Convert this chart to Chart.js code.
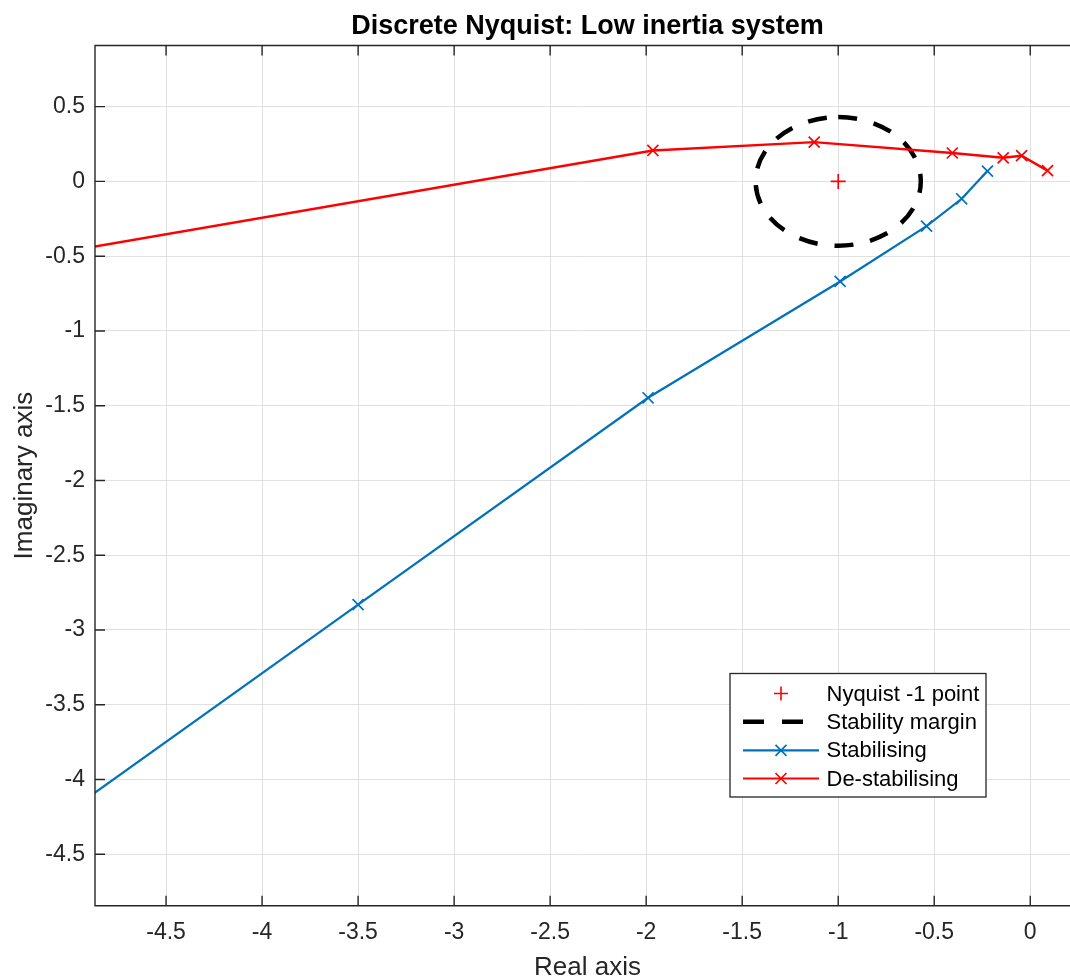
<!DOCTYPE html>
<html><head><meta charset="utf-8">
<script src="https://cdn.jsdelivr.net/npm/chart.js@4.4.1/dist/chart.umd.min.js"></script>
<style>html,body{margin:0;padding:0;background:#fff;}#wrap{width:1070px;height:978px;}</style>
</head><body><div id="wrap"><canvas id="c" width="1070" height="978"></canvas></div>
<script>
// ---- data ----
const chartTitle = 'Discrete Nyquist: Low inertia system';
const xLabel = 'Real axis';
const yLabel = 'Imaginary axis';
const xTicks = [-4.5, -4, -3.5, -3, -2.5, -2, -1.5, -1, -0.5, 0];
const yTicks = [0.5, 0, -0.5, -1, -1.5, -2, -2.5, -3, -3.5, -4, -4.5];
const xRange = [-4.87, 0.207];
const yRange = [-4.844, 0.909];
const seriesNames = ['Nyquist -1 point', 'Stability margin', 'Stabilising', 'De-stabilising'];
const nyquistX = [-1];
const nyquistY = [0];
const marginCenterX = -1;
const marginCenterY = 0;
const marginRadius = 0.43;
const stabX = [-5.2, -3.50, -1.99, -0.99, -0.54, -0.357, -0.223];
const stabY = [-4.39, -2.83, -1.447, -0.669, -0.299, -0.116, 0.069];
const destabX = [-5.3, -1.965, -1.125, -0.406, -0.141, -0.045, 0.09];
const destabY = [-0.53, 0.207, 0.263, 0.19, 0.158, 0.172, 0.072];

// ---- style ----
const FONT = "'Liberation Sans', Arial, Helvetica, sans-serif";
const AX = '#262626';
const RED = '#ff0000';
const BLUE = '#0072bd';
const pts = (xs, ys) => xs.map((x, i) => ({x: x, y: ys[i]}));

const decor = {
  id: 'decor',
  beforeDatasetsDraw(chart) {
    const {ctx, chartArea: a, scales: {x, y}} = chart;
    ctx.save();
    ctx.beginPath(); ctx.rect(a.left, a.top, a.right - a.left, a.bottom - a.top); ctx.clip();
    const cx = x.getPixelForValue(marginCenterX), cy = y.getPixelForValue(marginCenterY);
    const rx = Math.abs(x.getPixelForValue(marginCenterX + marginRadius) - cx);
    const ry = Math.abs(y.getPixelForValue(marginCenterY + marginRadius) - cy);
    ctx.beginPath();
    ctx.ellipse(cx, cy, rx, ry, 0, -Math.PI / 2, 1.5 * Math.PI);
    ctx.strokeStyle = '#000'; ctx.lineWidth = 4.5; ctx.setLineDash([19, 17]); ctx.lineCap = 'butt';
    ctx.stroke();
    ctx.restore();
  },
  afterDatasetsDraw(chart) {
    const {ctx, chartArea: a, scales: {x, y}} = chart;
    ctx.save();
    ctx.strokeStyle = AX; ctx.lineWidth = 1.4; ctx.setLineDash([]);
    ctx.beginPath();
    ctx.moveTo(a.right + 5, a.top); ctx.lineTo(a.left, a.top); ctx.lineTo(a.left, a.bottom); ctx.lineTo(a.right + 5, a.bottom);
    ctx.stroke();
    const tl = 10;
    ctx.beginPath();
    xTicks.forEach(v => { const px = x.getPixelForValue(v);
      ctx.moveTo(px, a.bottom); ctx.lineTo(px, a.bottom - tl);
      ctx.moveTo(px, a.top); ctx.lineTo(px, a.top + tl); });
    yTicks.forEach(v => { const py = y.getPixelForValue(v);
      ctx.moveTo(a.left, py); ctx.lineTo(a.left + tl, py); });
    ctx.stroke();
    ctx.restore();
  },
  afterDraw(chart) {
    const {ctx, chartArea: a} = chart;
    ctx.save();
    // titles
    ctx.fillStyle = '#000'; ctx.textAlign = 'center'; ctx.textBaseline = 'alphabetic';
    ctx.font = 'bold 27px ' + FONT;
    ctx.fillText(chartTitle, 587.5, 33.5);
    ctx.fillStyle = AX;
    ctx.font = '26px ' + FONT;
    ctx.fillText(xLabel, 587.5, 975);
    ctx.save(); ctx.translate(31.5, (a.top + a.bottom) / 2); ctx.rotate(-Math.PI / 2);
    ctx.fillText(yLabel, 0, 0); ctx.restore();
    // legend
    const L = 730, T = 673.5, R = 986, B = 797;
    ctx.fillStyle = '#fff'; ctx.fillRect(L, T, R - L, B - T);
    ctx.strokeStyle = AX; ctx.lineWidth = 1.3; ctx.strokeRect(L, T, R - L, B - T);
    const rows = [693.5, 721.8, 750.3, 778.5];
    const x0 = 743, x1 = 819, xm = 781;
    ctx.font = '22px ' + FONT; ctx.textAlign = 'left'; ctx.textBaseline = 'middle'; ctx.fillStyle = '#000';
    seriesNames.forEach((n, i) => ctx.fillText(n, 826.5, rows[i] + 1));
    // + marker
    ctx.strokeStyle = RED; ctx.lineWidth = 1.6;
    ctx.beginPath(); ctx.moveTo(xm - 7, rows[0]); ctx.lineTo(xm + 7, rows[0]);
    ctx.moveTo(xm, rows[0] - 7); ctx.lineTo(xm, rows[0] + 7); ctx.stroke();
    // dashed
    ctx.strokeStyle = '#000'; ctx.lineWidth = 4.5; ctx.setLineDash([21, 18]);
    ctx.beginPath(); ctx.moveTo(x0, rows[1]); ctx.lineTo(x1, rows[1]); ctx.stroke();
    ctx.setLineDash([]);
    [[BLUE, rows[2]], [RED, rows[3]]].forEach(([c, yy]) => {
      ctx.strokeStyle = c; ctx.lineWidth = 2.2;
      ctx.beginPath(); ctx.moveTo(x0, yy); ctx.lineTo(x1, yy); ctx.stroke();
      ctx.lineWidth = 1.7; const d = 5.5;
      ctx.beginPath(); ctx.moveTo(xm - d, yy - d); ctx.lineTo(xm + d, yy + d);
      ctx.moveTo(xm - d, yy + d); ctx.lineTo(xm + d, yy - d); ctx.stroke();
    });
    ctx.restore();
  }
};

new Chart(document.getElementById('c'), {
  type: 'scatter',
  data: {
    datasets: [
      {label: seriesNames[3], data: pts(destabX, destabY), showLine: true, borderColor: RED, backgroundColor: RED,
       borderWidth: 2.4, pointStyle: 'crossRot', pointRadius: 7.8, pointBorderWidth: 1.7, pointBorderColor: RED, order: 0},
      {label: seriesNames[2], data: pts(stabX, stabY), showLine: true, borderColor: BLUE, backgroundColor: BLUE,
       borderWidth: 2.2, pointStyle: 'crossRot', pointRadius: 7.8, pointBorderWidth: 1.7, pointBorderColor: BLUE, order: 1},
      {label: seriesNames[0], data: pts(nyquistX, nyquistY), showLine: false, borderColor: RED, backgroundColor: RED,
       pointStyle: 'cross', pointRadius: 7.5, pointBorderWidth: 1.6, order: 2}
    ]
  },
  options: {
    responsive: false, animation: false, devicePixelRatio: 1,
    layout: {autoPadding: false, padding: {top: 45.5, left: 0, right: 0, bottom: 0}},
    plugins: {legend: {display: false}, title: {display: false}, tooltip: {enabled: false}},
    elements: {line: {tension: 0}},
    scales: {
      x: {type: 'linear', position: 'bottom', min: xRange[0], max: xRange[1],
        afterFit: s => { s.height = 72.3; s.paddingLeft = 0; s.paddingRight = 0; },
        afterBuildTicks: s => { s.ticks = xTicks.map(v => ({value: v})); },
        ticks: {font: {size: 23, family: FONT}, color: AX, padding: 13, maxRotation: 0, autoSkip: false,
          callback: v => String(v)},
        grid: {color: '#e0e0e0', lineWidth: 1, drawTicks: false},
        border: {display: false}},
      y: {type: 'linear', position: 'left', min: yRange[0], max: yRange[1],
        afterFit: s => { s.width = 95; s.paddingTop = 0; s.paddingBottom = 0; },
        afterBuildTicks: s => { s.ticks = yTicks.map(v => ({value: v})); },
        ticks: {font: {size: 23, family: FONT}, color: AX, padding: 10, autoSkip: false,
          callback: v => String(v)},
        grid: {color: '#e0e0e0', lineWidth: 1, drawTicks: false},
        border: {display: false}}
    }
  },
  plugins: [decor]
});
</script></body></html>
